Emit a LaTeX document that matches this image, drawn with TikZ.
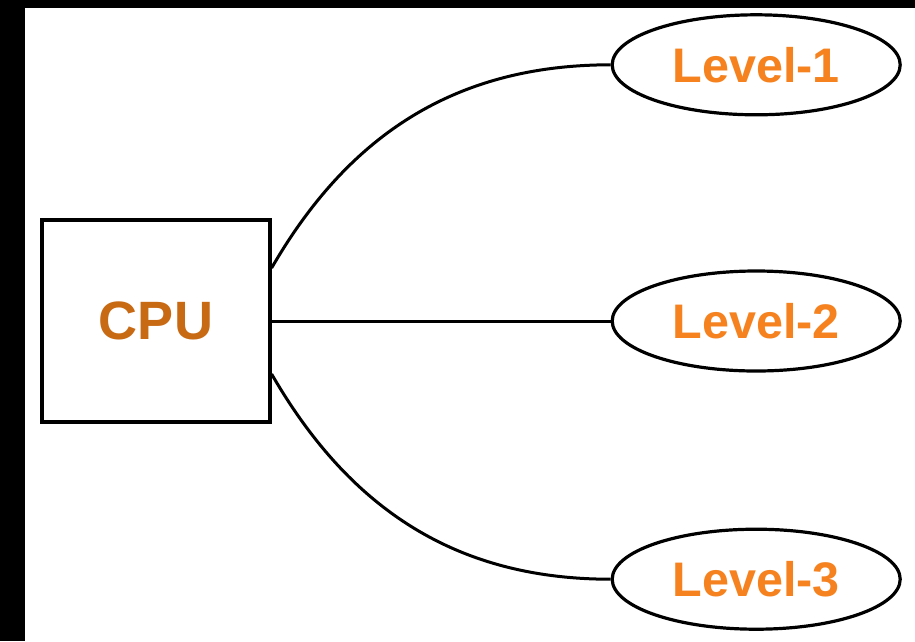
\documentclass[tikz,border=0pt]{standalone}
\usepackage{fontspec}
\setmainfont{Liberation Sans}
\usepackage{xcolor}
\usepackage{tikz}
\usetikzlibrary{positioning,shapes.geometric}
\definecolor{cpuorange}{RGB}{200,105,20}
\definecolor{lvlorange}{RGB}{245,130,30}
\tikzset{
  unit/.style={draw, line width=3.2pt, minimum width=228pt, minimum height=202pt, inner sep=0pt,
    text=cpuorange, font=\fontsize{54}{60}\selectfont\bfseries},
  level/.style={draw, ellipse, line width=3.2pt, minimum width=288pt, minimum height=100pt, inner sep=0pt,
    text=lvlorange, font=\fontsize{48.5}{54}\selectfont\bfseries},
  link/.style={line width=3pt},
}
\begin{document}
\begin{tikzpicture}[x=1pt, y=1pt]
  \useasboundingbox (0,0) rectangle (915,-641);
  \fill[black] (0,0) rectangle (915,-641);
  \fill[white] (25,-8) rectangle (915,-641);
  \node[unit] (cpu) at (156,-321) {CPU};
  \node[level, right=339pt of cpu] (lvl2) {Level-2};
  \node[level, above=153pt of lvl2] (lvl1) {Level-1};
  \node[level, below=155pt of lvl2] (lvl3) {Level-3};
  \draw[link] ([yshift=53pt]cpu.east) to[out=60, in=180] (lvl1.west);
  \draw[link] (cpu.east) -- (lvl2.west);
  \draw[link] ([yshift=-53pt]cpu.east) to[out=-60, in=180] (lvl3.west);
\end{tikzpicture}
\end{document}
